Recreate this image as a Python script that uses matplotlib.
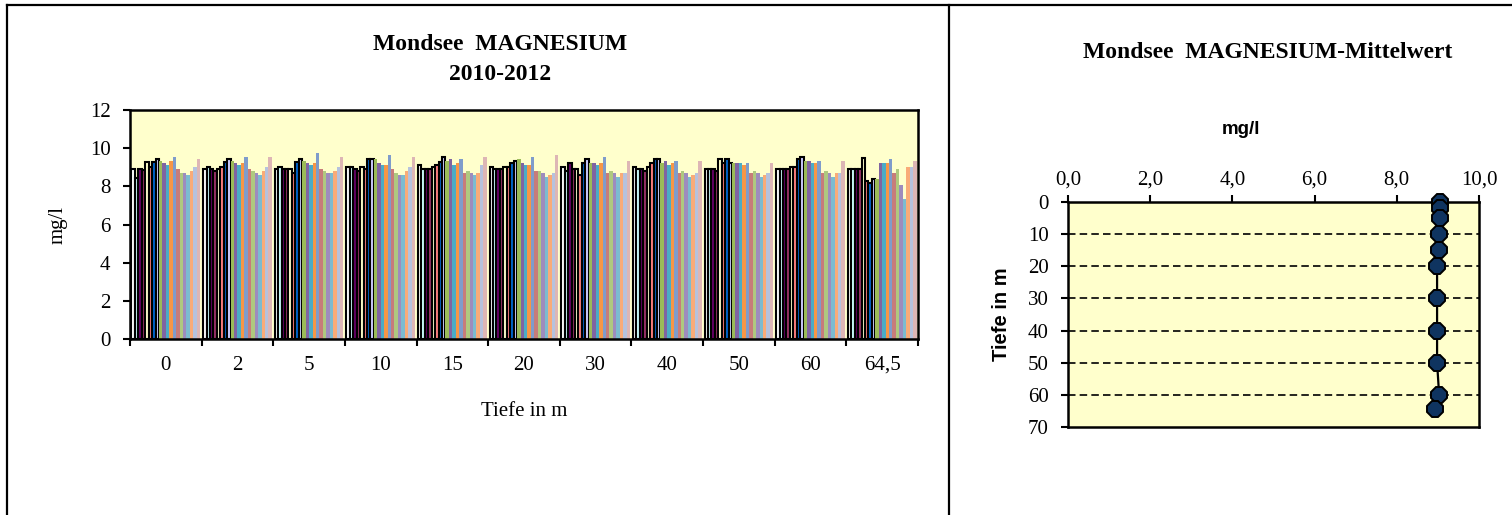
import matplotlib.pyplot as plt
from matplotlib.lines import Line2D

# Tiefenstufen (Kategorien) und Messwerte je Tiefe, 20 Termine 2010-2012
tiefen = ['0', '2', '5', '10', '15', '20', '30', '40', '50', '60', '64,5']
mg_0 = [8.93, 8.45, 8.9, 8.85, 9.3, 9.0, 9.3, 9.43, 9.33, 9.2, 9.1, 9.33, 9.53, 8.9, 8.7, 8.7, 8.6, 8.8, 9.0, 9.42]
mg_2 = [8.9, 9.0, 8.9, 8.8, 8.9, 9.0, 9.3, 9.43, 9.33, 9.2, 9.1, 9.2, 9.53, 8.9, 8.8, 8.7, 8.6, 8.8, 9.0, 9.53]
mg_5 = [8.9, 9.0, 8.9, 8.9, 8.9, 8.7, 9.3, 9.43, 9.33, 9.2, 9.12, 9.2, 9.74, 8.9, 8.8, 8.7, 8.7, 8.8, 9.0, 9.53]
mg_10 = [9.0, 9.0, 8.9, 8.8, 9.0, 8.9, 9.42, 9.42, 9.42, 9.2, 9.1, 9.1, 9.62, 8.9, 8.7, 8.6, 8.6, 8.8, 9.0, 9.53]
mg_15 = [9.1, 8.9, 8.9, 8.9, 9.0, 9.1, 9.3, 9.53, 9.33, 9.42, 9.1, 9.2, 9.42, 8.7, 8.8, 8.7, 8.6, 8.7, 9.1, 9.53]
mg_20 = [9.0, 8.9, 8.9, 8.9, 9.0, 9.0, 9.2, 9.33, 9.42, 9.2, 9.1, 9.1, 9.53, 8.8, 8.8, 8.7, 8.48, 8.6, 8.7, 9.62]
mg_30 = [9.0, 8.8, 9.2, 8.9, 8.9, 8.6, 9.2, 9.42, 9.2, 9.2, 9.1, 9.2, 9.53, 8.7, 8.8, 8.7, 8.48, 8.7, 8.7, 9.33]
mg_40 = [9.0, 8.9, 8.9, 8.8, 9.0, 9.2, 9.42, 9.42, 9.2, 9.33, 9.1, 9.2, 9.33, 8.7, 8.8, 8.7, 8.48, 8.6, 8.7, 9.33]
mg_50 = [8.9, 8.9, 8.9, 8.8, 9.42, 9.2, 9.42, 9.2, 9.2, 9.2, 9.2, 9.1, 9.2, 8.7, 8.8, 8.7, 8.48, 8.6, 8.7, 9.2]
mg_60 = [8.9, 8.9, 8.9, 8.9, 9.0, 9.0, 9.42, 9.53, 9.33, 9.33, 9.2, 9.2, 9.33, 8.7, 8.8, 8.7, 8.48, 8.7, 8.7, 9.33]
mg_64 = [8.9, 8.9, 8.9, 8.9, 9.5, 8.27, 8.17, 8.38, 8.38, 9.2, 9.2, 9.2, 9.42, 8.7, 8.9, 8.07, 7.34, 9.0, 9.0, 9.33]
werte = [mg_0, mg_2, mg_5, mg_10, mg_15, mg_20, mg_30, mg_40, mg_50, mg_60, mg_64]

# Mittelwerte je Tiefe
tiefe_m = [0, 2, 5, 10, 15, 20, 30, 40, 50, 60, 64.5]
mittel = [9.05, 9.05, 9.05, 9.03, 9.03, 8.98, 8.98, 8.98, 8.98, 9.03, 8.93]

farben = ['#FFFFFF', '#CCFFFF', '#660066', '#993366', '#FFFFCC', '#FF8080', '#0066CC', '#CCCCFF',
          '#9BBB59', '#8064A2', '#4BACC6', '#F79646', '#7F9CCB', '#C77C7A', '#AFC97F', '#9E8CBD',
          '#7CBBD0', '#F9AB78', '#B6C2DD', '#DDB6B5']
n_umrandet = 8

W, H = 1512, 515
fig = plt.figure(figsize=(W / 100, H / 100), dpi=100)
serif = 'Liberation Serif'
sans = 'Liberation Sans'
fs = 15

# Rahmen der beiden Diagramme
for xs, ys in [([7 / W, 7 / W], [0, 1 - 5 / H]), ([949 / W, 949 / W], [0, 1 - 5 / H]),
               ([7 / W, 1], [1 - 5 / H, 1 - 5 / H])]:
    fig.add_artist(Line2D(xs, ys, color='black', lw=1.6))

# --- linkes Diagramm: Säulen ---
ax = fig.add_axes([130 / W, (H - 339) / H, 788 / W, 229 / H])
ax.set_facecolor('#FFFFCC')
n = len(farben)
bw = 0.96 / n
for j in range(n):
    xs = [g + 0.02 + (j + 0.5) * bw for g in range(len(tiefen))]
    hs = [werte[g][j] for g in range(len(tiefen))]
    if j < n_umrandet:
        ax.bar(xs, hs, width=bw, color=farben[j], edgecolor='black', linewidth=1.5, zorder=2)
    else:
        ax.bar(xs, hs, width=bw, color=farben[j], linewidth=0, zorder=2)
ax.set_xlim(0, len(tiefen))
ax.set_ylim(0, 12)
ax.set_yticks(range(0, 13, 2))
ax.set_xticks(range(len(tiefen) + 1))
ax.set_xticklabels([])
ax.set_xticks([g + 0.5 for g in range(len(tiefen))], minor=True)
ax.set_xticklabels(tiefen, minor=True, fontfamily=serif, fontsize=fs)
ax.tick_params(axis='x', which='minor', length=0, pad=12)
ax.tick_params(axis='both', which='major', direction='out', length=5, width=1.5)
ax.tick_params(axis='y', pad=9)
for lab in ax.get_yticklabels():
    lab.set_fontfamily(serif)
    lab.set_fontsize(fs)
for s in ax.spines.values():
    s.set_linewidth(1.8)
ax.set_ylabel('mg/l', fontfamily=serif, fontsize=fs, labelpad=16)
ax.set_xlabel('Tiefe in m', fontfamily=serif, fontsize=fs, labelpad=20)
fig.text(500 / W, 1 - 44 / H, 'Mondsee  MAGNESIUM', ha='center', va='center',
         fontfamily=serif, fontweight='bold', fontsize=17)
fig.text(500 / W, 1 - 75 / H, '2010-2012', ha='center', va='center',
         fontfamily=serif, fontweight='bold', fontsize=17)

# --- rechtes Diagramm: Mittelwert-Profil ---
ax2 = fig.add_axes([1068 / W, (H - 427) / H, 411 / W, 225 / H])
ax2.set_facecolor('#FFFFCC')
ax2.plot(mittel, tiefe_m, color='black', lw=1.6, marker='8', markersize=12.5,
         markerfacecolor='#0F3460', markeredgecolor='black', markeredgewidth=1.4,
         zorder=3, clip_on=False)
ax2.set_xlim(0, 10)
ax2.set_ylim(70, 0)
ax2.set_xticks(range(0, 11, 2))
ax2.set_xticklabels(['%d,0' % v for v in range(0, 11, 2)], fontfamily=serif, fontsize=fs)
ax2.set_yticks(range(0, 71, 10))
for lab in ax2.get_yticklabels():
    lab.set_fontfamily(serif)
    lab.set_fontsize(fs)
ax2.xaxis.tick_top()
ax2.tick_params(axis='both', direction='out', length=5, width=1.5)
ax2.tick_params(axis='y', pad=9)
ax2.tick_params(axis='x', pad=4)
for yv in range(10, 70, 10):
    ax2.axhline(yv, color='black', lw=1.2, ls=(0, (4.5, 2.5)), zorder=1)
for s in ax2.spines.values():
    s.set_linewidth(1.8)
ax2.set_ylabel('Tiefe in m', fontfamily=sans, fontweight='bold', fontsize=14.5, labelpad=12)
fig.text(1241 / W, 1 - 130 / H, 'mg/l', ha='center', va='center',
         fontfamily=sans, fontweight='bold', fontsize=13.5)
fig.text(1268 / W, 1 - 52 / H, 'Mondsee  MAGNESIUM-Mittelwert', ha='center', va='center',
         fontfamily=serif, fontweight='bold', fontsize=17)

fig.savefig('out.png', dpi=100)
